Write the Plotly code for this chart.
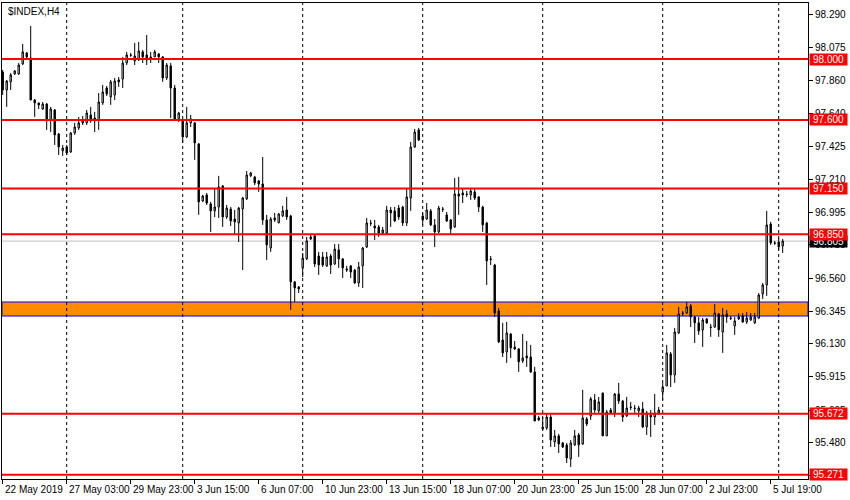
import plotly.graph_objects as go

opens = [97.915,97.797,97.850,97.902,97.902,97.968,98.040,98.007,97.731,97.712,
97.672,97.705,97.600,97.666,97.508,97.397,97.423,97.390,97.515,97.548,
97.581,97.581,97.633,97.613,97.600,97.712,97.810,97.751,97.764,97.863,
97.869,97.974,98.027,97.988,97.994,98.047,98.027,98.014,98.014,98.033,
98.014,97.876,97.955,97.810,97.607,97.600,97.489,97.581,97.581,97.443,
97.068,97.108,97.049,97.003,97.029,97.167,96.963,97.016,96.950,96.924,
97.016,97.082,97.233,97.226,97.200,97.180,96.944,96.760,96.957,96.924,
96.970,97.009,96.970,96.537,96.504,96.629,96.688,96.819,96.839,96.707,
96.701,96.642,96.707,96.655,96.747,96.688,96.622,96.642,96.615,96.530,
96.642,96.766,96.924,96.904,96.898,96.858,96.858,97.009,97.003,97.022,
97.029,96.924,97.088,97.423,97.535,96.970,96.950,97.003,96.911,96.865,
97.016,96.977,96.944,96.898,97.114,97.121,97.114,97.108,97.128,97.095,
97.029,96.924,96.688,96.648,96.346,96.156,96.077,96.195,96.110,96.097,
96.018,96.051,96.044,95.946,95.644,95.572,95.578,95.650,95.486,95.526,
95.480,95.467,95.375,95.467,95.532,95.473,95.637,95.657,95.762,95.690,
95.808,95.526,95.696,95.677,95.801,95.755,95.657,95.716,95.709,95.690,
95.703,95.585,95.650,95.650,95.677,95.815,95.854,96.064,95.926,96.202,
96.333,96.333,96.379,96.307,96.268,96.222,96.294,96.241,96.241,96.327,
96.208,96.327,96.300,96.248,96.294,96.313,96.274,96.287,96.268,96.300,
96.458,96.517,96.917,96.793,96.799,96.773]

highs = [97.928,97.863,97.909,97.928,97.974,98.099,98.047,98.217,97.738,97.712,
97.718,97.712,97.686,97.672,97.515,97.436,97.436,97.521,97.581,97.620,
97.626,97.666,97.686,97.653,97.777,97.830,97.823,97.863,97.876,97.882,
98.014,98.047,98.040,98.106,98.112,98.060,98.158,98.047,98.060,98.040,
98.020,97.974,97.974,97.830,97.653,97.607,97.686,97.633,97.587,97.449,
97.108,97.121,97.062,97.147,97.233,97.173,97.042,97.029,97.009,97.029,
97.095,97.265,97.259,97.233,97.206,97.357,96.977,96.963,96.990,96.990,
97.036,97.095,96.977,96.543,96.510,96.727,96.832,96.845,96.845,96.734,
96.734,96.734,96.721,96.786,96.786,96.694,96.642,96.648,96.622,96.668,
96.766,96.957,96.944,96.944,96.911,96.898,97.036,97.029,97.029,97.042,
97.036,97.154,97.456,97.541,97.548,96.990,97.055,97.016,96.950,97.036,
97.029,96.996,96.950,97.219,97.226,97.147,97.134,97.154,97.154,97.101,
97.036,96.931,96.707,96.655,96.366,96.268,96.274,96.202,96.149,96.103,
96.195,96.149,96.123,95.979,95.657,95.650,95.670,95.663,95.565,95.539,
95.486,95.480,95.499,95.565,95.545,95.828,95.650,95.782,95.801,95.782,
95.808,95.696,95.709,95.808,95.874,95.762,95.782,95.749,95.729,95.723,
95.749,95.690,95.696,95.801,95.716,95.874,96.123,96.077,96.235,96.373,
96.346,96.405,96.392,96.313,96.307,96.300,96.300,96.261,96.392,96.333,
96.366,96.353,96.313,96.307,96.333,96.333,96.340,96.333,96.333,96.464,
96.530,97.003,96.931,96.806,96.826,96.819]

lows = [97.764,97.686,97.797,97.896,97.896,97.961,98.007,97.731,97.620,97.672,
97.666,97.535,97.521,97.436,97.370,97.364,97.370,97.384,97.502,97.535,
97.567,97.567,97.581,97.521,97.535,97.699,97.758,97.699,97.731,97.817,
97.810,97.961,98.014,97.961,97.988,97.974,97.961,97.974,98.014,97.974,
97.850,97.863,97.613,97.600,97.587,97.449,97.482,97.554,97.338,96.977,
97.062,97.042,96.865,96.963,96.957,96.898,96.950,96.904,96.845,96.799,
96.615,97.075,97.226,97.173,97.128,96.911,96.681,96.734,96.931,96.924,
96.963,96.944,96.353,96.405,96.464,96.569,96.681,96.812,96.635,96.583,
96.635,96.635,96.589,96.648,96.629,96.563,96.602,96.563,96.524,96.504,
96.497,96.760,96.904,96.812,96.832,96.845,96.845,96.898,96.931,96.944,
96.904,96.904,97.003,97.416,97.462,96.911,96.944,96.904,96.766,96.858,
96.996,96.931,96.845,96.891,96.977,97.055,97.095,97.075,97.075,96.996,
96.865,96.517,96.648,96.307,96.136,96.044,96.005,96.038,96.090,95.946,
96.005,95.979,95.939,95.624,95.624,95.565,95.565,95.453,95.453,95.414,
95.447,95.348,95.322,95.460,95.388,95.467,95.591,95.631,95.677,95.670,
95.526,95.526,95.670,95.650,95.736,95.618,95.650,95.696,95.677,95.650,
95.578,95.532,95.519,95.598,95.663,95.762,95.854,95.847,95.874,96.195,
96.313,96.327,96.241,96.136,96.189,96.110,96.261,96.176,96.235,96.176,
96.071,96.268,96.287,96.189,96.287,96.268,96.261,96.281,96.261,96.294,
96.425,96.445,96.780,96.780,96.747,96.727]

closes = [97.797,97.856,97.896,97.922,97.961,98.047,98.014,97.731,97.712,97.699,
97.705,97.607,97.672,97.502,97.423,97.416,97.384,97.515,97.554,97.581,
97.594,97.646,97.607,97.594,97.718,97.784,97.771,97.850,97.856,97.850,
97.974,98.027,98.025,98.020,98.053,98.014,97.994,98.001,98.047,98.014,
97.876,97.961,97.810,97.607,97.646,97.489,97.581,97.607,97.449,97.062,
97.101,97.055,97.003,97.029,97.160,96.963,97.022,96.937,96.931,97.022,
97.088,97.239,97.252,97.187,97.180,96.944,96.780,96.950,96.944,96.983,
97.003,96.963,96.537,96.497,96.491,96.694,96.806,96.832,96.655,96.648,
96.648,96.701,96.648,96.753,96.688,96.629,96.615,96.602,96.530,96.635,
96.760,96.924,96.921,96.891,96.858,96.878,97.009,96.990,96.937,96.963,
96.924,97.095,97.423,97.521,97.469,96.944,97.009,96.911,96.865,97.022,
97.013,96.937,96.885,97.114,97.101,97.108,97.111,97.134,97.088,97.029,
96.911,96.675,96.684,96.333,96.143,96.071,96.202,96.103,96.097,96.012,
96.038,96.038,95.946,95.624,95.631,95.585,95.650,95.499,95.526,95.473,
95.453,95.381,95.480,95.526,95.467,95.644,95.604,95.769,95.696,95.749,
95.526,95.683,95.677,95.801,95.755,95.650,95.709,95.713,95.706,95.709,
95.585,95.677,95.663,95.677,95.696,95.847,96.071,95.926,96.208,96.327,
96.330,96.373,96.307,96.268,96.215,96.287,96.268,96.238,96.333,96.222,
96.320,96.307,96.297,96.281,96.307,96.274,96.300,96.307,96.307,96.451,
96.517,96.911,96.793,96.790,96.766,96.805]

bar_index = list(range(len(closes)))

# time-axis labels (bar index where each label sits)
label_bars = [0, 16, 32, 48, 64, 80, 96, 112, 128, 144, 160, 176, 192]
label_texts = ["22 May 2019", "27 May 03:00", "29 May 23:00", "3 Jun 15:00",
               "6 Jun 07:00", "10 Jun 23:00", "13 Jun 15:00", "18 Jun 07:00",
               "20 Jun 23:00", "25 Jun 15:00", "28 Jun 07:00", "2 Jul 23:00",
               "5 Jul 19:00"]
week_separators = [16, 45, 75, 105, 135, 165, 194]

price_ticks = [98.290, 98.075, 97.860, 97.640, 97.425, 97.210, 96.995, 96.780,
               96.560, 96.345, 96.130, 95.915, 95.695, 95.480, 95.265]
levels = [98.000, 97.600, 97.150, 96.850, 95.672, 95.271]
zone_low, zone_high = 96.313, 96.405
last_price = 96.805

FONT = "Liberation Sans"

fig = go.Figure()
fig.add_trace(go.Candlestick(
    x=bar_index, open=opens, high=highs, low=lows, close=closes,
    increasing=dict(fillcolor="white", line=dict(color="black", width=1)),
    decreasing=dict(fillcolor="black", line=dict(color="black", width=1)),
    whiskerwidth=0, showlegend=False, hoverinfo="skip"))

shapes = []
shapes.append(dict(type="rect", xref="paper", x0=0, x1=1, y0=zone_low, y1=zone_high,
                   fillcolor="#FF8C00", line=dict(color="#0000FF", width=1), layer="below"))
for b in week_separators:
    shapes.append(dict(type="line", xref="x", yref="paper", x0=b, x1=b, y0=0, y1=1,
                       line=dict(color="black", width=1, dash="3px,3px"), layer="below"))
shapes.append(dict(type="line", xref="paper", x0=0, x1=1, y0=last_price, y1=last_price,
                   line=dict(color="#C0C0C0", width=1), layer="below"))
for lv in levels:
    shapes.append(dict(type="line", xref="paper", x0=0, x1=1, y0=lv, y1=lv,
                       line=dict(color="#FF0000", width=2), layer="above"))

annotations = []
annotations.append(dict(xref="paper", yref="paper", x=0, y=1, xanchor="left", yanchor="top",
                        xshift=4, yshift=-1, text="$INDEX,H4", showarrow=False,
                        font=dict(family=FONT, size=10, color="black")))
for b, t in zip(label_bars, label_texts):
    annotations.append(dict(xref="x", yref="paper", x=b, y=0, xanchor="left", yanchor="top",
                            xshift=0, yshift=-3, text=t, showarrow=False,
                            font=dict(family=FONT, size=10, color="black")))
annotations.append(dict(xref="paper", yref="y", x=1, y=last_price, xanchor="left",
                        yanchor="middle", xshift=1, text=f"{last_price:.3f}", showarrow=False,
                        bgcolor="black", width=37, height=11, borderpad=0,
                        font=dict(family=FONT, size=10, color="white")))
for lv in levels:
    annotations.append(dict(xref="paper", yref="y", x=1, y=lv, xanchor="left",
                            yanchor="middle", xshift=1, text=f"{lv:.3f}", showarrow=False,
                            bgcolor="#FF0000", width=37, height=11, borderpad=0,
                            font=dict(family=FONT, size=10, color="white")))

fig.update_layout(
    width=850, height=500,
    margin=dict(l=2, r=42, t=3, b=21, pad=0, autoexpand=False),
    paper_bgcolor="white", plot_bgcolor="white",
    boxgap=0.5,
    shapes=shapes, annotations=annotations,
    showlegend=False,
    xaxis=dict(range=[-0.175, 201.325], rangeslider=dict(visible=False),
               showgrid=False, zeroline=False, showline=True, mirror=True,
               linecolor="black", linewidth=1, ticks="outside", ticklen=4,
               tickcolor="black", tickvals=label_bars, showticklabels=False),
    yaxis=dict(side="right", range=[95.243, 98.368], showgrid=False, zeroline=False,
               showline=True, mirror=True, linecolor="black", linewidth=1,
               ticks="outside", ticklen=4, tickcolor="black",
               tickvals=price_ticks, tickformat=".3f",
               tickfont=dict(family=FONT, size=10, color="black")),
)

fig.write_html("out.html", config={"displayModeBar": False},
               post_script="document.body.style.margin='0';document.body.style.overflow='hidden';")
